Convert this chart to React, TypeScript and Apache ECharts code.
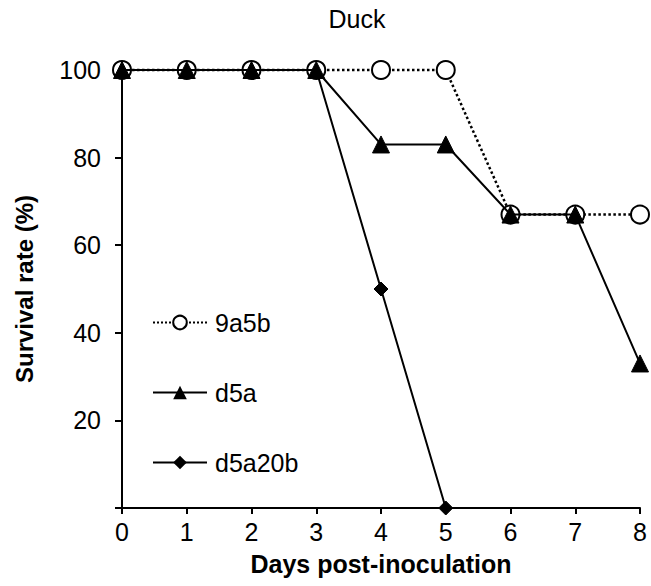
import React, { useEffect, useRef } from "react";
import * as echarts from "echarts";

const days = [0, 1, 2, 3, 4, 5, 6, 7, 8];
const s9a5b = [100, 100, 100, 100, 100, 100, 67, 67, 67];
const sd5a = [100, 100, 100, 100, 83, 83, 67, 67, 33];
const sd5a20b = [100, 100, 100, 100, 50, 0];
const yTicks = [20, 40, 60, 80, 100];

const FONT = "'Liberation Sans', Arial, Helvetica, sans-serif";

export default function App() {
  const ref = useRef<HTMLDivElement>(null);
  useEffect(() => {
    if (!ref.current) return;
    const chart = echarts.init(ref.current, null, { renderer: "svg" });
    const pair = (vals: number[]) => vals.map((v, i) => [days[i], v]);
    chart.setOption({
      animation: false,
      backgroundColor: "#fff",
      title: {
        text: "Duck",
        left: 357,
        top: 6,
        padding: 0,
        textAlign: "center",
        textStyle: { fontFamily: FONT, fontSize: 25, fontWeight: "normal", color: "#000" },
      },
      grid: { left: 122, right: 11, top: 70, bottom: 78, containLabel: false },
      legend: {
        orient: "vertical",
        left: 152,
        top: 310,
        padding: 0,
        itemWidth: 54,
        itemHeight: 17,
        itemGap: 45,
        data: ["9a5b", "d5a", "d5a20b"],
        textStyle: { fontFamily: FONT, fontSize: 25, color: "#000", padding: [0, 0, 0, 3] },
      },
      xAxis: {
        type: "value",
        min: 0,
        max: 8,
        interval: 1,
        name: "Days post-inoculation",
        nameLocation: "middle",
        nameGap: 43,
        nameTextStyle: { fontFamily: FONT, fontSize: 25, fontWeight: "bold", color: "#000" },
        axisLine: { lineStyle: { color: "#000", width: 2 } },
        axisTick: { show: true, length: 6, lineStyle: { color: "#000", width: 2 } },
        axisLabel: { fontFamily: FONT, fontSize: 25, color: "#000", margin: 11 },
        splitLine: { show: false },
      },
      yAxis: {
        type: "value",
        min: 0,
        max: 100,
        interval: 20,
        name: "Survival rate (%)",
        nameLocation: "middle",
        nameGap: 86,
        nameTextStyle: { fontFamily: FONT, fontSize: 24, fontWeight: "bold", color: "#000" },
        axisLine: { show: true, lineStyle: { color: "#000", width: 2 } },
        axisTick: { show: true, length: 7, lineStyle: { color: "#000", width: 2 } },
        axisLabel: {
          fontFamily: FONT,
          fontSize: 25,
          color: "#000",
          margin: 21,
          formatter: (v: number) => (yTicks.includes(v) ? String(v) : ""),
        },
        splitLine: { show: false },
      },
      series: [
        {
          name: "d5a20b",
          type: "line",
          data: pair(sd5a20b),
          symbol: "diamond",
          symbolSize: 14,
          clip: false,
          lineStyle: { color: "#000", width: 2 },
          itemStyle: { color: "#000", borderColor: "#000" },
          z: 2,
        },
        {
          name: "9a5b",
          type: "line",
          data: pair(s9a5b),
          symbol: "circle",
          symbolSize: 18,
          clip: false,
          lineStyle: { color: "#000", width: 2.5, type: "dotted" },
          itemStyle: { color: "#fff", borderColor: "#000", borderWidth: 2 },
          z: 3,
        },
        {
          name: "d5a",
          type: "line",
          data: pair(sd5a),
          symbol: "triangle",
          symbolSize: 17,
          clip: false,
          lineStyle: { color: "#000", width: 2 },
          itemStyle: { color: "#000", borderColor: "#000" },
          z: 4,
        },
      ],
    });
    return () => chart.dispose();
  }, []);
  return <div ref={ref} style={{ width: 651, height: 586, position: "absolute", left: 0, top: 0 }} />;
}
